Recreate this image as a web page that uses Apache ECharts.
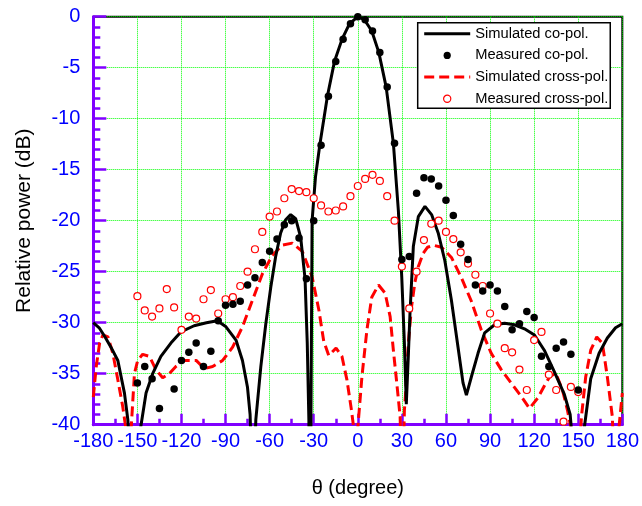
<!DOCTYPE html>
<html>
<head>
<meta charset="utf-8">
<script src="https://cdn.jsdelivr.net/npm/echarts@6/dist/echarts.min.js"></script>
<style>
html,body{margin:0;padding:0;background:#fff;}
#chart{width:642px;height:506px;}
</style>
</head>
<body>
<div id="chart"></div>
<script>
// ---- tick labels / axis ----
var xTicks = [-180,-150,-120,-90,-60,-30,0,30,60,90,120,150,180];
var yTicks = [-40,-35,-30,-25,-20,-15,-10,-5,0];

// ---- series names ----
var seriesNames = ['Simulated co-pol.', 'Measured co-pol.', 'Simulated cross-pol.', 'Measured cross-pol.'];

// ---- Simulated co-pol. (angle in degrees, relative power in dB) ----
var simCoDeg = [-180,-176,-172,-168,-163.3,-160.5,-158.8,-156.5,-152,-147.8,-144.1,-139.6,-134,-127.2,-120.4,-111.4,-103,-95.6,-89.7,-82.9,-78.5,-75.1,-73.3,-71.3,-69.4,-66,-62.6,-59.2,-55.9,-52.5,-49.1,-45.7,-42.3,-38.9,-35.9,-34.4,-33.3,-32.6,-31.9,-31.1,-28.8,-25.9,-20.7,-15.9,-10.7,-5.7,0,4.5,9.5,14.3,19.3,24.2,27.6,29.9,31.7,33,34.3,35.5,37.8,41.2,45.7,50.2,54.7,59.2,63.7,68.2,71.6,73.9,77.3,81.8,86.3,93.1,99.9,106.6,113.4,120.2,126.9,133.7,140.5,144.5,150,154.4,158.5,164.2,169.8,175.4,180];
var simCoDb  = [-30,-30.5,-31.4,-32.4,-33.7,-35.7,-36.9,-39.5,-50,-40.3,-36.9,-35,-33.3,-32,-30.9,-30.3,-30,-29.8,-30.4,-31.7,-33.7,-36.3,-39,-48,-39.5,-34.3,-30.1,-26.5,-23.5,-21.2,-19.9,-19.4,-19.8,-21.6,-25.7,-32,-39.5,-50,-40,-20,-15.7,-12.6,-7.8,-4.4,-2.2,-0.7,0,-0.3,-1.4,-3.5,-6.9,-12.4,-19,-25.5,-32,-38,-33.5,-29.1,-22.5,-19.6,-18.6,-19.4,-21.2,-23.9,-27.8,-32.4,-35.9,-37.1,-35.3,-33,-31,-30.2,-30.05,-30.2,-30.6,-31.2,-32.7,-34.8,-37,-39,-48,-40,-35.5,-33,-31.5,-30.5,-30.1];

// ---- Simulated cross-pol. ----
var simXDeg = [-180,-178,-175.7,-173.5,-170,-166.7,-163.3,-160,-157.7,-156,-154.3,-152,-149.8,-146.4,-141.8,-137.4,-132.8,-128.3,-123.8,-118.1,-110,-104.4,-98.8,-92,-85.2,-78.5,-71.7,-64.9,-58.2,-51.4,-44.6,-37.8,-31.1,-26.5,-23.2,-19.8,-14.8,-10.8,-7.4,-4.4,-2.8,-1.4,0,2.8,6.2,9.5,14.1,18.6,22,24.2,26.5,28.8,30.2,31.7,32.5,34.4,36.5,38.9,41.2,44.5,47.5,51.3,57,63.7,70.5,77.3,84,90.8,97.6,104.3,111.1,116.8,122.4,126.9,131,134.8,139.3,142.7,145,148.5,152.2,155.1,158.5,162.6,166.4,169.8,173.2,175.5,177.7,180];
var simXDb  = [-37.3,-34.3,-32,-31.2,-31.4,-33,-35.6,-38.2,-40.5,-48,-40.5,-35,-33.7,-33.1,-33.3,-34.6,-35.4,-35,-34.3,-33.7,-33.7,-34.5,-34.3,-33.7,-32.4,-30.4,-27.8,-25.2,-23.4,-22.4,-22.2,-23,-25.5,-28.75,-31.8,-33.2,-32.5,-33.3,-35.6,-38.5,-40.3,-48,-40.3,-35.3,-30.7,-27.5,-26.3,-27.1,-29.4,-32.7,-35.9,-39.2,-48,-38.6,-37,-32,-28.5,-26,-24.5,-23.2,-22.6,-22.4,-22.6,-23.6,-25.6,-27.9,-30.7,-33,-34.6,-35.9,-37.2,-38.4,-37.4,-36.2,-35.2,-35,-36.6,-38.6,-40.3,-48,-39.2,-35.3,-32.7,-31.4,-32,-35.3,-39.2,-48,-40.3,-36.9];

// ---- Measured angles (degrees) ----
var measDeg = [-150,-145,-140,-135,-130,-125,-120,-115,-110,-105,-100,-95,-90,-85,-80,-75,-70,-65,-60,-55,-50,-45,-40,-35,-30,-25,-20,-15,-10,-5,0,5,10,15,20,25,30,35,40,45,50,55,60,65,70,75,80,85,90,95,100,105,110,115,120,125,130,135,140,145,150];
// ---- Measured co-pol. (dB) ----
var measCo = [-35.9,-34.3,-35.5,-38.4,null,-36.5,-33.7,-32.9,-32.0,-34.3,-32.8,-29.8,-28.3,-28.2,-27.9,-26.3,-25.6,-24.1,-23.0,-21.8,-20.4,-20.0,-21.7,-25.7,-20.0,-12.6,-7.8,-4.4,-2.2,-0.7,0,-0.3,-1.4,-3.5,-6.9,-12.4,-23.8,-23.5,-17.3,-15.8,-15.9,-16.6,-18.0,-19.5,-22.3,-23.8,-26.3,-26.9,-26.3,-26.9,-28.4,-30.7,-30.1,-28.9,-29.5,-33.3,-34.3,-32.5,-31.9,-33.1,-36.6];
// ---- Measured cross-pol. (dB) ----
var measX = [-27.4,-28.8,-29.4,-28.6,-26.7,-28.5,-30.7,-29.4,-29.6,-27.7,-26.8,-29.1,-27.7,-27.5,-26.4,-25.0,-22.8,-21.1,-19.6,-19.1,-17.8,-16.9,-17.1,-17.2,-17.8,-18.5,-19.1,-19.0,-18.6,-17.6,-16.6,-15.9,-15.5,-16.1,-17.6,-20.0,-24.5,-28.6,-25.0,-21.9,-20.3,-20.0,-21.1,-21.8,-23.1,-24.2,-25.3,-26.4,-29.1,-30.1,-32.5,-32.9,-34.6,-36.6,-31.7,-30.9,-35.1,-36.6,-39.7,-36.3,-36.8];

function zip(a, b) { return a.map(function (v, i) { return [v, b[i]]; }); }

var PURPLE = '#8000ff', BLUE = '#0000ff', GREEN = '#00ff00';
var FONT = '"Liberation Sans", Arial, sans-serif';

var chart = echarts.init(document.getElementById('chart'), null, {renderer: 'canvas'});
chart.setOption({
  animation: false,
  backgroundColor: '#fff',
  textStyle: {fontFamily: FONT},
  grid: {left: 93.3, right: 17, top: 16.7, bottom: 81.3, show: true, borderColor: '#000', borderWidth: 2, backgroundColor: 'transparent'},
  xAxis: {
    type: 'value', min: xTicks[0], max: xTicks[xTicks.length - 1], interval: 30,
    name: 'θ (degree)', nameLocation: 'middle', nameGap: 54,
    nameTextStyle: {color: '#000', fontSize: 20, fontFamily: FONT},
    axisLine: {show: true, onZero: false, lineStyle: {color: PURPLE, width: 3}},
    axisTick: {show: true, inside: true, length: 11, lineStyle: {color: PURPLE, width: 2.5}},
    minorTick: {show: true, splitNumber: 2, length: 6, lineStyle: {color: PURPLE, width: 2.5}},
    splitLine: {show: true, lineStyle: {color: GREEN, type: 'dotted', width: 1}},
    axisLabel: {color: BLUE, fontSize: 20, margin: 7, fontFamily: FONT}
  },
  yAxis: {
    type: 'value', min: yTicks[0], max: yTicks[yTicks.length - 1], interval: 5,
    name: 'Relative power (dB)', nameLocation: 'middle', nameGap: 59,
    nameTextStyle: {color: '#000', fontSize: 21, fontFamily: FONT},
    axisLine: {show: true, onZero: false, lineStyle: {color: PURPLE, width: 3}},
    axisTick: {show: true, inside: true, length: 13, lineStyle: {color: PURPLE, width: 2.5}},
    minorTick: {show: true, splitNumber: 5, length: 7, lineStyle: {color: PURPLE, width: 2.5}},
    splitLine: {show: true, lineStyle: {color: GREEN, type: 'dotted', width: 1}},
    axisLabel: {color: BLUE, fontSize: 20, margin: 13, fontFamily: FONT}
  },
  legend: {
    orient: 'vertical', left: 417.7, top: 22.7,
    padding: [3.5, 2, 2, 5],
    itemWidth: 46, itemHeight: 9, itemGap: 6.7,
    backgroundColor: '#fff', borderColor: '#000', borderWidth: 1.5, borderRadius: 0,
    textStyle: {color: '#000', fontSize: 14.7, lineHeight: 15, fontFamily: FONT},
    selectedMode: false,
    data: [
      {name: seriesNames[0], itemStyle: {opacity: 0}, lineStyle: {width: 3}},
      {name: seriesNames[1], lineStyle: {width: 0, opacity: 0}},
      {name: seriesNames[2], itemStyle: {opacity: 0}, lineStyle: {width: 3}},
      {name: seriesNames[3], lineStyle: {width: 0, opacity: 0}, itemStyle: {borderWidth: 1.2}}
    ]
  },
  series: [
    {
      name: seriesNames[0], type: 'line', data: zip(simCoDeg, simCoDb),
      symbol: 'none', clip: true, z: 4,
      lineStyle: {color: '#000', width: 3}, itemStyle: {color: '#000'}
    },
    {
      name: seriesNames[2], type: 'line', data: zip(simXDeg, simXDb),
      symbol: 'none', clip: true, z: 3,
      lineStyle: {color: '#ff0000', width: 3, type: [10, 5]}, itemStyle: {color: '#ff0000'}
    },
    {
      name: seriesNames[3], type: 'line', data: zip(measDeg, measX),
      symbol: 'circle', symbolSize: 7, showSymbol: true, showAllSymbol: true, clip: false, z: 5,
      connectNulls: false,
      lineStyle: {width: 0, opacity: 0},
      itemStyle: {color: '#fff', borderColor: '#ff0000', borderWidth: 1.2}
    },
    {
      name: seriesNames[1], type: 'line', data: zip(measDeg, measCo),
      symbol: 'circle', symbolSize: 7.5, showSymbol: true, showAllSymbol: true, clip: false, z: 6,
      connectNulls: false,
      lineStyle: {width: 0, opacity: 0},
      itemStyle: {color: '#000', borderWidth: 0}
    }
  ]
});
</script>
</body>
</html>
